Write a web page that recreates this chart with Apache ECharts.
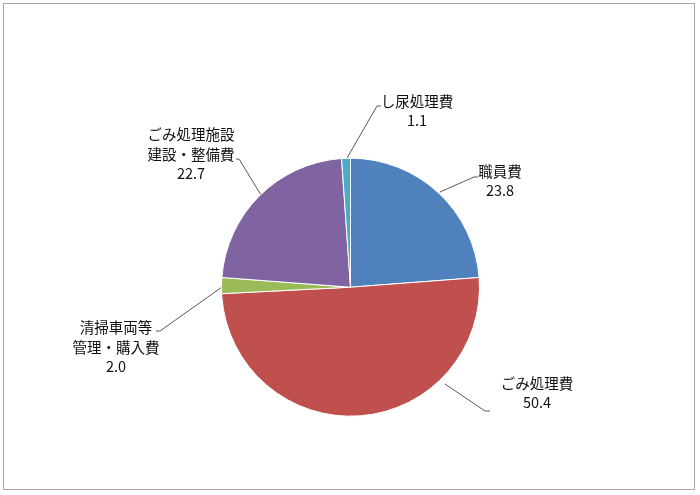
<!DOCTYPE html>
<html>
<head>
<meta charset="utf-8">
<script src="https://cdn.jsdelivr.net/npm/echarts@6/dist/echarts.min.js"></script>
<style>
html,body{margin:0;padding:0;background:#fff;}
#frame{position:absolute;left:3px;top:3px;width:692px;height:487px;border:1px solid #a6a6a6;box-sizing:border-box;}
#chart{position:absolute;left:0;top:0;width:700px;height:495px;}
</style>
</head>
<body>
<div id="frame"></div>
<div id="chart"></div>
<script>
const categories = ['職員費', 'ごみ処理費', '清掃車両等\n管理・購入費', 'ごみ処理施設\n建設・整備費', 'し尿処理費'];
const values = [23.8, 50.4, 2.0, 22.7, 1.1];
const colors = ['#4F81BD', '#C0504D', '#9BBB59', '#8064A2', '#4BACC6'];

// label placement (layout only)
const labelPos = [
  {x: 500, y: 181, line: [[440, 192], [474, 177], [478, 177]]},
  {x: 537, y: 393, line: [[445, 384], [485, 411], [490, 411]]},
  {x: 116, y: 347, line: [[222, 287], [160, 331], [156, 331]]},
  {x: 191, y: 154, line: [[261, 195], [239, 159], [236, 159]]},
  {x: 417, y: 111, line: [[347, 158], [377, 106], [381, 106]]}
];

const chart = echarts.init(document.getElementById('chart'), null, {renderer: 'canvas'});
chart.setOption({
  animation: false,
  backgroundColor: 'transparent',
  color: colors,
  series: [{
    type: 'pie',
    center: [350.5, 287.2],
    radius: 129,
    startAngle: 90,
    clockwise: true,
    data: categories.map((c, i) => ({name: c, value: values[i]})),
    itemStyle: {borderColor: '#ffffff', borderWidth: 1},
    label: {
      show: true,
      position: 'outside',
      formatter: p => p.name + '\n' + p.value.toFixed(1),
      color: '#111',
      fontSize: 14.5,
      lineHeight: 19.5,
      fontFamily: '"Noto Sans CJK JP", "Noto Sans", sans-serif',
      align: 'center'
    },
    labelLine: {show: true, lineStyle: {color: '#303030', width: 0.8}},
    labelLayout: function (params) {
      const p = labelPos[params.dataIndex];
      return {x: p.x, y: p.y, align: 'center', verticalAlign: 'middle', labelLinePoints: p.line};
    },
    emphasis: {disabled: true}
  }]
});
</script>
</body>
</html>
